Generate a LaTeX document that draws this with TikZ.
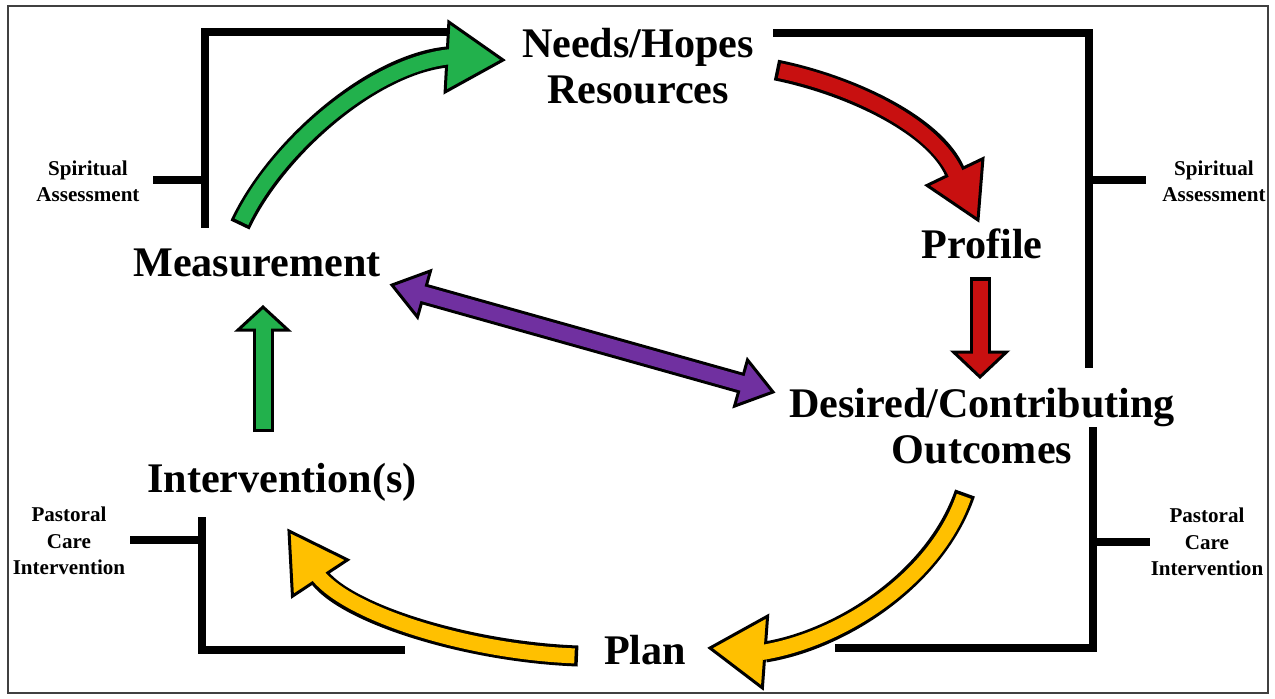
\documentclass[tikz,border=0pt]{standalone}
\usepackage{fontspec}
\setmainfont{Liberation Serif}
\usepackage{tikz}
\usetikzlibrary{calc}
\definecolor{greencolor}{RGB}{34,177,76}
\definecolor{redcolor}{RGB}{200,16,16}
\definecolor{purplecolor}{RGB}{112,48,160}
\definecolor{yellowcolor}{RGB}{255,192,0}
\tikzstyle{stage} = [font=\fontsize{24}{26.5}\selectfont\bfseries, align=center, inner sep=0pt]
\tikzstyle{side} = [font=\fontsize{12}{15}\selectfont\bfseries, align=center, inner sep=0pt]
\tikzstyle{bracket} = [line width=0.16cm]
\tikzstyle{shaftout} = [line width=0.42cm]
\tikzstyle{shaftin} = [line width=0.30cm, shorten <=0.07cm, shorten >=-0.07cm]
\tikzstyle{tiphead} = [line width=0.06cm, line join=miter]
% fat arrow: colour, tail, path, base, tip, half width of head
\newcommand{\fatarrow}[6]{%
  \draw[shaftout] #2 #3 #4;
  \draw[tiphead, fill=#1] ($#4!#6!90:#5$) -- #5 -- ($#4!#6!-90:#5$) -- cycle;
  \draw[shaftin, draw=#1] #2 #3 #4;
}

\begin{document}
\begin{tikzpicture}[x=0.02cm, y=-0.02cm]
    \useasboundingbox (0,0) rectangle (1275,698);
    \draw[line width=0.03cm, black!75] (8,6) rectangle (1268,693);

    % Stages
    \node[stage] (needs) at (638,66) {Needs/Hopes\\Resources};
    \node[stage] (profile) at (982,244) {Profile};
    \node[stage] (desired) at (982,426) {Desired/Contributing\\Outcomes};
    \node[stage] (plan) at (645,650) {Plan};
    \node[stage] (interv) at (282,482) {Intervention(s)};
    \node[stage] (meas) at (257,263) {Measurement};

    % Side labels
    \node[side] (sprL) at (88,181) {Spiritual\\Assessment};
    \node[side] (sprR) at (1214,181) {Spiritual\\Assessment};
    \node[side] (pasL) at (69,541) {Pastoral\\Care\\Intervention};
    \node[side] (pasR) at (1207,542) {Pastoral\\Care\\Intervention};

    % Brackets
    \draw[bracket] (447,32) -| (205,228);
    \draw[bracket] (153,180) -- (205,180);
    \draw[bracket] (773,33) -| (1089,368);
    \draw[bracket] (1089,180) -- (1146,180);
    \draw[bracket] (1093,427) |- (835,648);
    \draw[bracket] (1093,542) -- (1150,542);
    \draw[bracket] (202,517) |- (405,650);
    \draw[bracket] (130,540) -- (202,540);

    % Arrow ends
    \coordinate (gA) at (240,225);
    \coordinate (gB) at (447,57);
    \coordinate (gT) at (503,60);
    \coordinate (rA) at (776,70);
    \coordinate (rB) at (955,172);
    \coordinate (rT) at (978,220);
    \coordinate (pA) at (980,277);
    \coordinate (pB) at (980,352);
    \coordinate (pT) at (980,377);
    \coordinate (yA) at (965,493);
    \coordinate (yB) at (765,652);
    \coordinate (yT) at (710,648);
    \coordinate (zA) at (578,656);
    \coordinate (zB) at (320,578);
    \coordinate (zT) at (289,531);
    \coordinate (iA) at (263,432);
    \coordinate (iB) at (263,330);
    \coordinate (iT) at (263,307);

    % Cycle
    \fatarrow{greencolor}{(gA)}{.. controls (275,150) and (370,65) ..}{(gB)}{(gT)}{0.7cm}
    \fatarrow{redcolor}{(rA)}{.. controls (850,85) and (935,125) ..}{(rB)}{(rT)}{0.62cm}
    \fatarrow{redcolor}{(pA)}{--}{(pB)}{(pT)}{0.53cm}
    \fatarrow{yellowcolor}{(yA)}{.. controls (935,580) and (840,640) ..}{(yB)}{(yT)}{0.72cm}
    \fatarrow{yellowcolor}{(zA)}{.. controls (470,652) and (350,615) ..}{(zB)}{(zT)}{0.66cm}
    \fatarrow{greencolor}{(iA)}{--}{(iB)}{(iT)}{0.5cm}

    % Measurement <-> Outcomes
    \coordinate (mL) at (392,285);
    \coordinate (mBL) at (424,294);
    \coordinate (mBR) at (741,383);
    \coordinate (mR) at (773,392);
    \draw[shaftout] (mBL) -- (mBR);
    \draw[tiphead, fill=purplecolor] ($(mBL)!0.48cm!90:(mL)$) -- (mL) -- ($(mBL)!0.48cm!-90:(mL)$) -- cycle;
    \draw[tiphead, fill=purplecolor] ($(mBR)!0.48cm!90:(mR)$) -- (mR) -- ($(mBR)!0.48cm!-90:(mR)$) -- cycle;
    \draw[line width=0.30cm, purplecolor, shorten <=-0.07cm, shorten >=-0.07cm] (mBL) -- (mBR);
\end{tikzpicture}
\end{document}
